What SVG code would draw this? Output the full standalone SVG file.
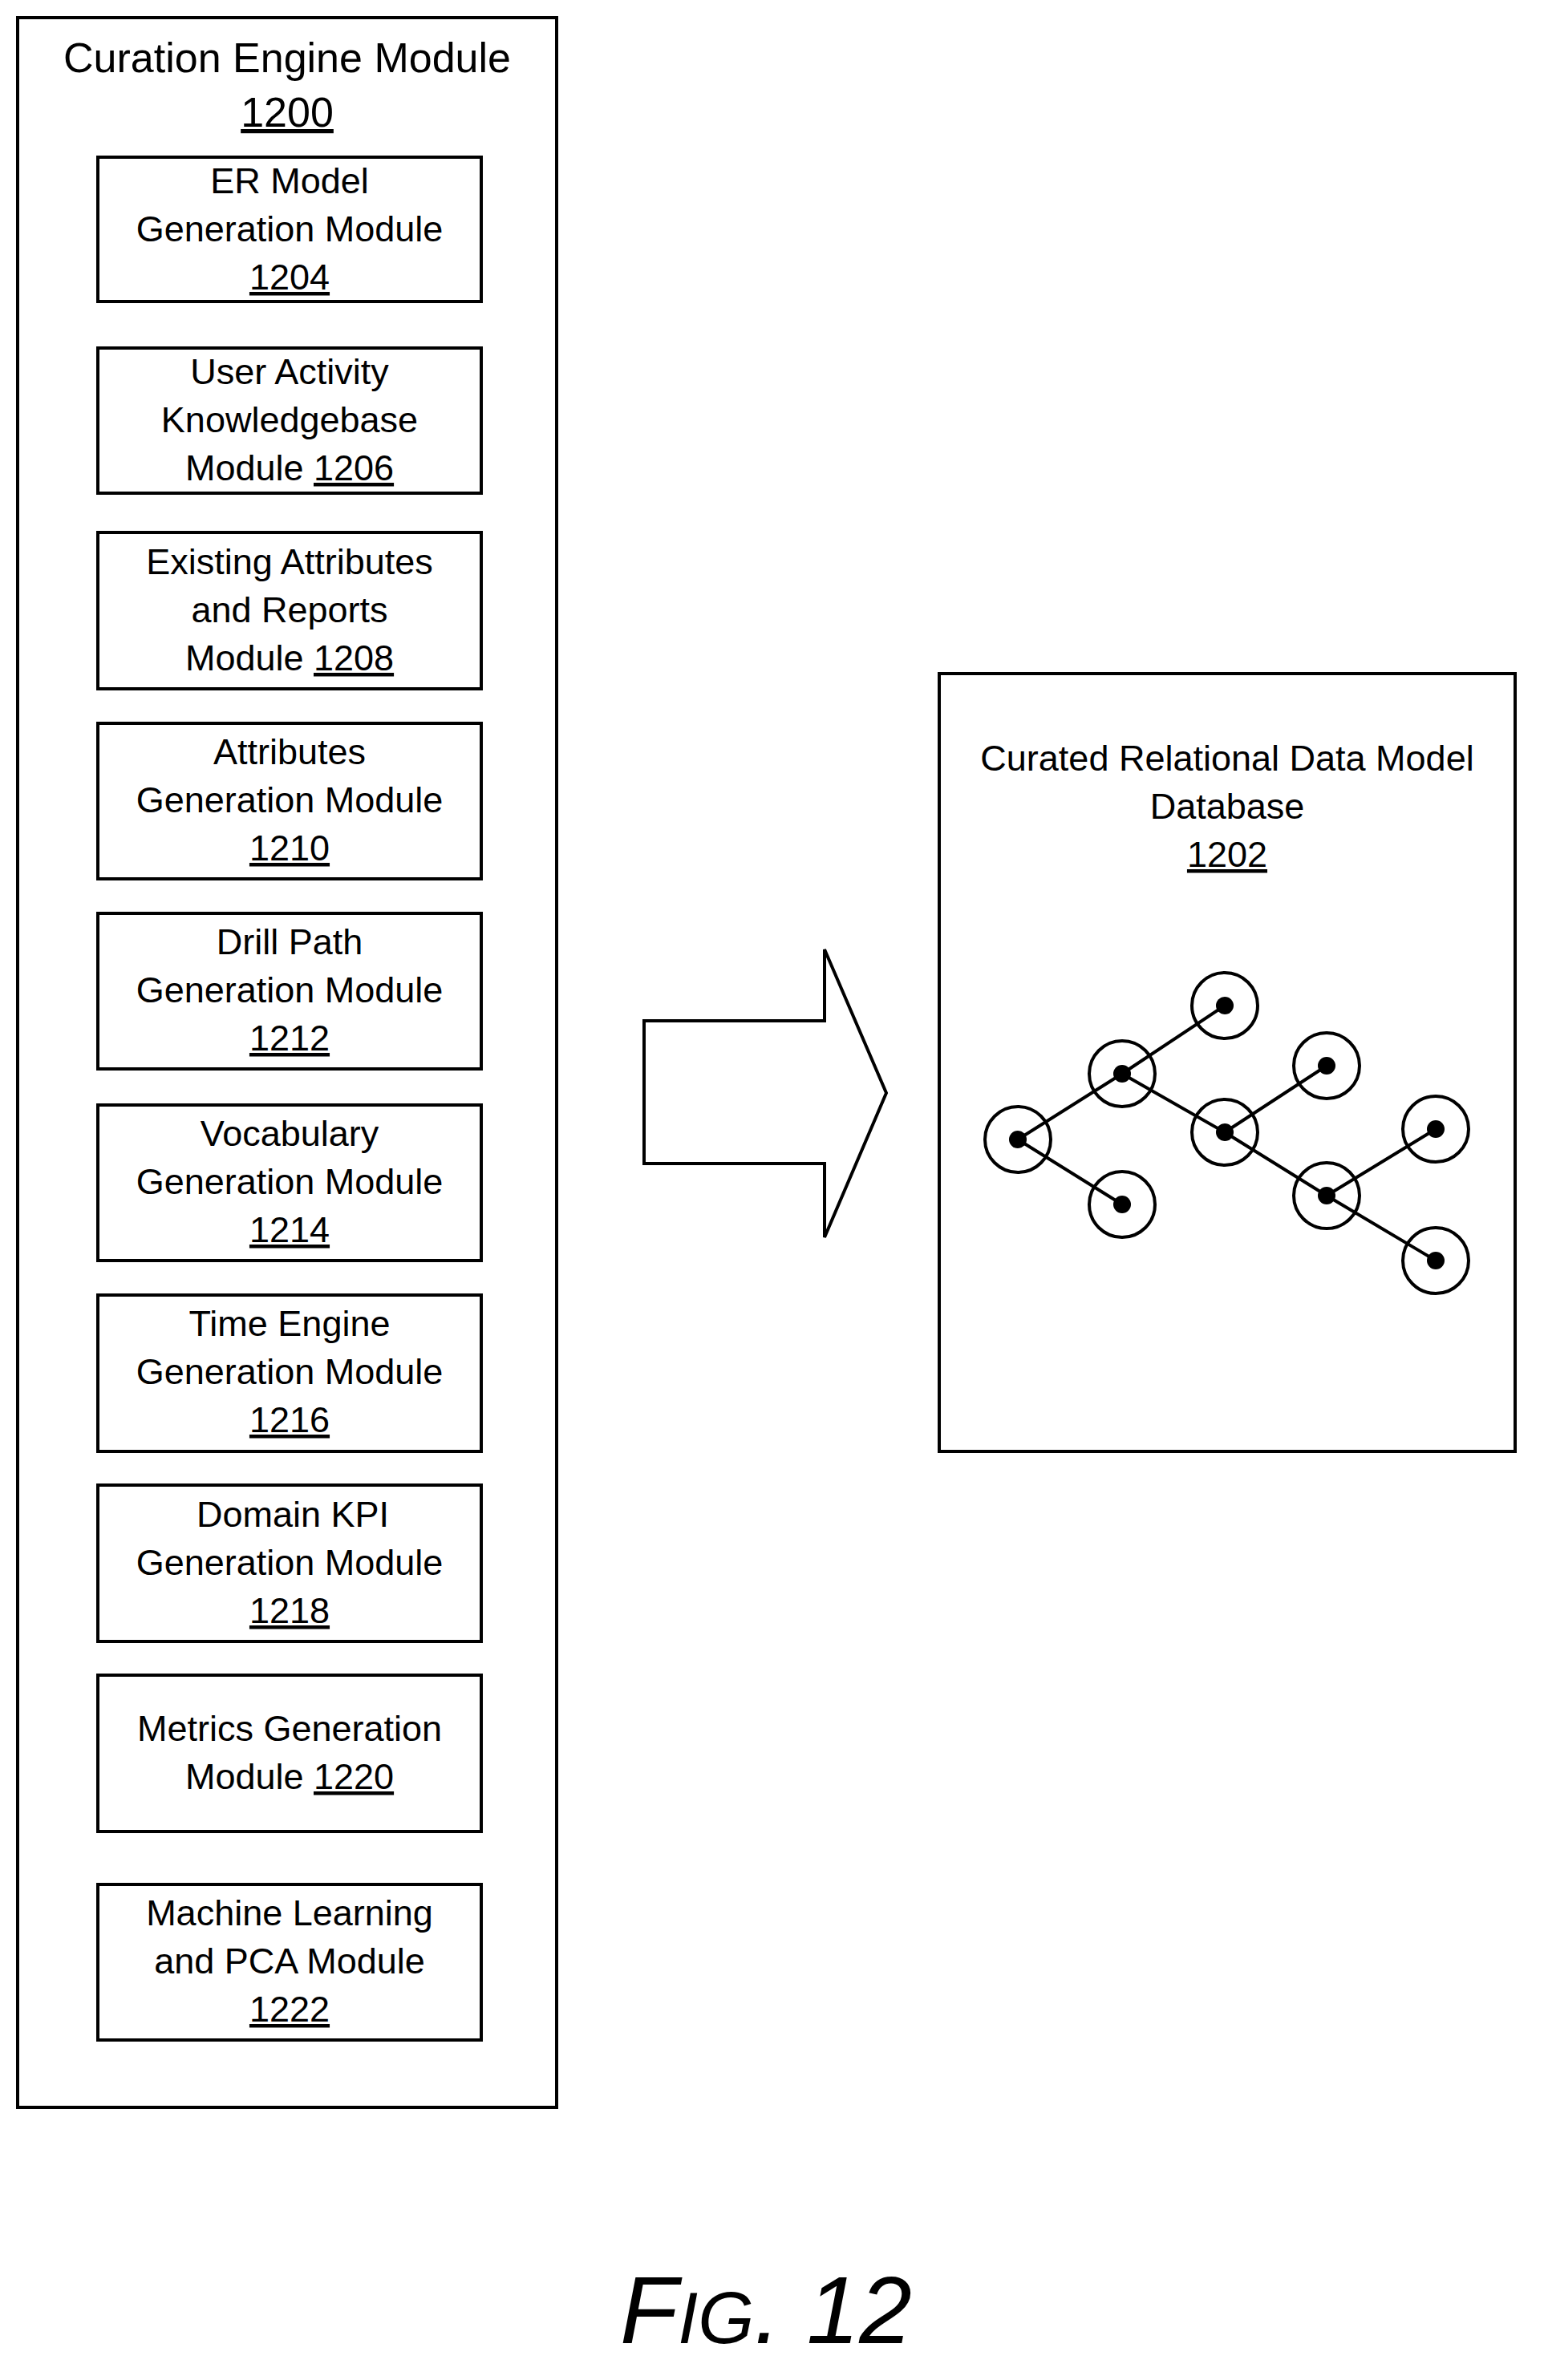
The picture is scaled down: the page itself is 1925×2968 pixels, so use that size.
<svg xmlns="http://www.w3.org/2000/svg" width="1925" height="2968" viewBox="0 0 1925 2968">
<style>
text{font-family:"Liberation Sans",Arial,sans-serif;fill:#000;text-anchor:middle}
.t{font-size:52px}
.m{font-size:45px}
.u{text-decoration:underline}
.b{fill:#fff;stroke:#000;stroke-width:4}
.e{stroke:#000;stroke-width:4;fill:none}
</style>
<rect width="1925" height="2968" fill="#fff"/>
<g id="curation-engine">
<rect class="b" x="22" y="22" width="672" height="2606"/>
<text class="t" x="358" y="90">Curation Engine Module</text>
<text class="t u" x="358" y="158">1200</text>
</g>
<g id="m1204"><rect class="b" x="122" y="196" width="478" height="180"/>
<text class="m" x="361" y="241">ER Model</text><text class="m" x="361" y="301">Generation Module</text><text class="m u" x="361" y="361">1204</text></g>
<g id="m1206"><rect class="b" x="122" y="434" width="478" height="181"/>
<text class="m" x="361" y="479">User Activity</text><text class="m" x="361" y="539">Knowledgebase</text><text class="m" x="361" y="599">Module <tspan class="u">1206</tspan></text></g>
<g id="m1208"><rect class="b" x="122" y="664" width="478" height="195"/>
<text class="m" x="361" y="716">Existing Attributes</text><text class="m" x="361" y="776">and  Reports</text><text class="m" x="361" y="836">Module <tspan class="u">1208</tspan></text></g>
<g id="m1210"><rect class="b" x="122" y="902" width="478" height="194"/>
<text class="m" x="361" y="953">Attributes</text><text class="m" x="361" y="1013">Generation Module</text><text class="m u" x="361" y="1073">1210</text></g>
<g id="m1212"><rect class="b" x="122" y="1139" width="478" height="194"/>
<text class="m" x="361" y="1190">Drill Path</text><text class="m" x="361" y="1250">Generation Module</text><text class="m u" x="361" y="1310">1212</text></g>
<g id="m1214"><rect class="b" x="122" y="1378" width="478" height="194"/>
<text class="m" x="361" y="1429">Vocabulary</text><text class="m" x="361" y="1489">Generation Module</text><text class="m u" x="361" y="1549">1214</text></g>
<g id="m1216"><rect class="b" x="122" y="1615" width="478" height="195"/>
<text class="m" x="361" y="1666">Time Engine</text><text class="m" x="361" y="1726">Generation Module</text><text class="m u" x="361" y="1786">1216</text></g>
<g id="m1218"><rect class="b" x="122" y="1852" width="478" height="195"/>
<text class="m" x="365" y="1904">Domain KPI</text><text class="m" x="361" y="1964">Generation Module</text><text class="m u" x="361" y="2024">1218</text></g>
<g id="m1220"><rect class="b" x="122" y="2089" width="478" height="195"/>
<text class="m" x="361" y="2171">Metrics Generation</text><text class="m" x="361" y="2231">Module <tspan class="u">1220</tspan></text></g>
<g id="m1222"><rect class="b" x="122" y="2350" width="478" height="194"/>
<text class="m" x="361" y="2401">Machine Learning</text><text class="m" x="361" y="2461">and PCA Module</text><text class="m u" x="361" y="2521">1222</text></g>
<g id="connectors">
<polygon class="b" points="803,1273 1028,1273 1028,1184 1105,1363 1028,1543 1028,1451 803,1451"/>
</g>
<g id="db1202">
<rect class="b" x="1171" y="840" width="718" height="970"/>
<text class="m" x="1530" y="961">Curated Relational Data Model</text>
<text class="m" x="1530" y="1021">Database</text>
<text class="m u" x="1530" y="1081">1202</text>
<g class="e">
<line x1="1269" y1="1421" x2="1399" y2="1339"/><line x1="1399" y1="1339" x2="1527" y2="1254"/>
<line x1="1269" y1="1421" x2="1399" y2="1502"/><line x1="1399" y1="1339" x2="1527" y2="1412"/>
<line x1="1527" y1="1412" x2="1654" y2="1329"/><line x1="1527" y1="1412" x2="1654" y2="1491"/>
<line x1="1654" y1="1491" x2="1790" y2="1408"/><line x1="1654" y1="1491" x2="1790" y2="1572"/>
</g>
<g class="e">
<circle cx="1269" cy="1421" r="41"/><circle cx="1399" cy="1339" r="41"/><circle cx="1527" cy="1254" r="41"/>
<circle cx="1399" cy="1502" r="41"/><circle cx="1527" cy="1412" r="41"/><circle cx="1654" cy="1329" r="41"/>
<circle cx="1654" cy="1491" r="41"/><circle cx="1790" cy="1408" r="41"/><circle cx="1790" cy="1572" r="41"/>
</g>
<g fill="#000">
<circle cx="1269" cy="1421" r="11"/><circle cx="1399" cy="1339" r="11"/><circle cx="1527" cy="1254" r="11"/>
<circle cx="1399" cy="1502" r="11"/><circle cx="1527" cy="1412" r="11"/><circle cx="1654" cy="1329" r="11"/>
<circle cx="1654" cy="1491" r="11"/><circle cx="1790" cy="1408" r="11"/><circle cx="1790" cy="1572" r="11"/>
</g>
</g>
<text x="955" y="2922" font-style="italic" style="font-size:118px">F<tspan style="font-size:90px">IG</tspan>. 12</text>
</svg>
